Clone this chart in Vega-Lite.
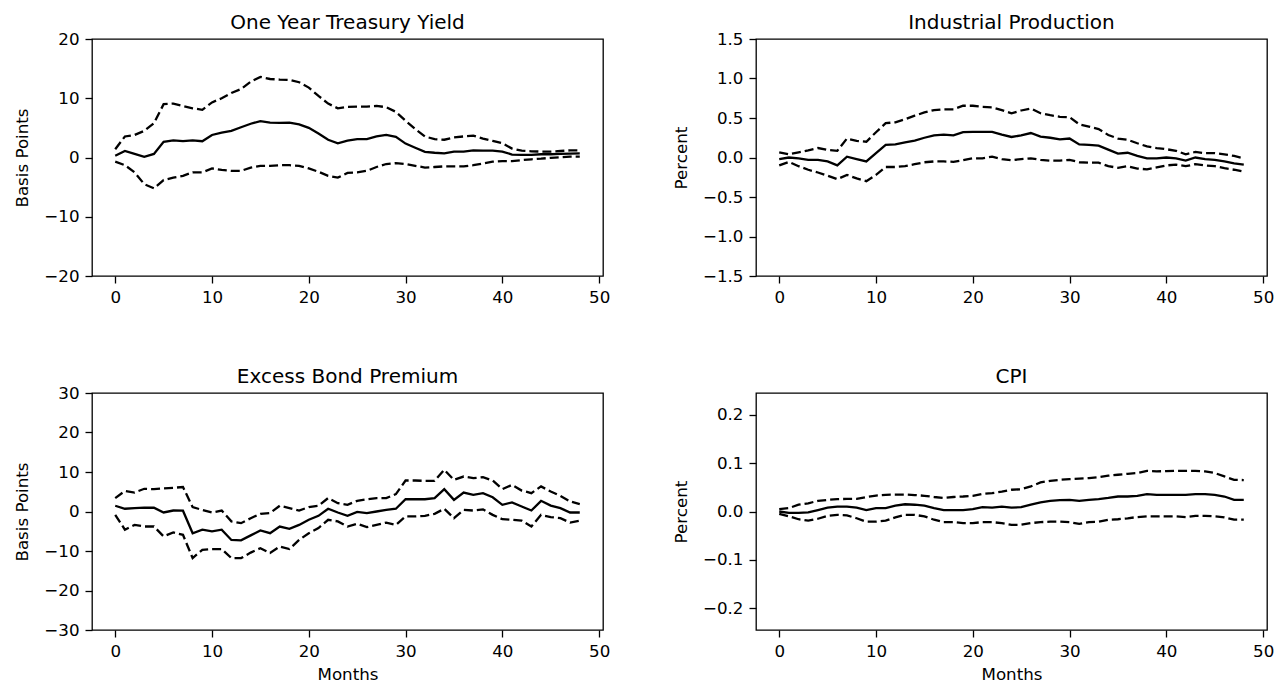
{
  "$schema": "https://vega.github.io/schema/vega-lite/v6.json",
  "padding": {"left": 14, "top": 12, "right": 0, "bottom": 0},
  "background": "white",
  "config": {
    "font": "DejaVu Sans",
    "view": {"stroke": "black", "strokeWidth": 1.3},
    "axis": {
      "domain": false, "grid": false, "ticks": true, "tickColor": "black", "tickSize": 7, "tickWidth": 1.3, "tickCount": 20,
      "labelFont": "DejaVu Sans", "labelFontSize": 16.7, "labelColor": "black", "labelPadding": 6, "labelOverlap": false,
      "titleFont": "DejaVu Sans", "titleFontSize": 16.7, "titleFontWeight": "normal", "titleColor": "black", "titlePadding": 7
    },
    "axisY": {"titlePadding": 12},
    "title": {"font": "DejaVu Sans", "fontSize": 20, "fontWeight": "normal", "color": "black", "offset": -2, "frame": "group"}
  },
  "datasets": {
    "ty": [
      {"m":0,"med":0.3,"lo":-0.7,"hi":1.4},{"m":1,"med":1.1,"lo":-1.3,"hi":3.55},{"m":2,"med":0.6,"lo":-2.5,"hi":3.8},{"m":3,"med":0.1,"lo":-4.5,"hi":4.5},{"m":4,"med":0.6,"lo":-5.2,"hi":5.8},{"m":5,"med":2.65,"lo":-3.8,"hi":9.0},{"m":6,"med":2.9,"lo":-3.4,"hi":9.1},{"m":7,"med":2.75,"lo":-3.1,"hi":8.7},{"m":8,"med":2.9,"lo":-2.5,"hi":8.3},{"m":9,"med":2.75,"lo":-2.5,"hi":8.05},
      {"m":10,"med":3.8,"lo":-1.85,"hi":9.3},{"m":11,"med":4.2,"lo":-2.1,"hi":10.0},{"m":12,"med":4.5,"lo":-2.25,"hi":10.9},{"m":13,"med":5.1,"lo":-2.25,"hi":11.55},{"m":14,"med":5.7,"lo":-1.7,"hi":12.8},{"m":15,"med":6.15,"lo":-1.4,"hi":13.6},{"m":16,"med":5.9,"lo":-1.4,"hi":13.25},{"m":17,"med":5.85,"lo":-1.3,"hi":13.15},{"m":18,"med":5.9,"lo":-1.3,"hi":13.1},{"m":19,"med":5.6,"lo":-1.4,"hi":12.7},
      {"m":20,"med":5.0,"lo":-1.85,"hi":11.8},{"m":21,"med":4.05,"lo":-2.4,"hi":10.4},{"m":22,"med":3.0,"lo":-3.1,"hi":9.1},{"m":23,"med":2.4,"lo":-3.4,"hi":8.3},{"m":24,"med":2.85,"lo":-2.6,"hi":8.55},{"m":25,"med":3.1,"lo":-2.5,"hi":8.6},{"m":26,"med":3.1,"lo":-2.25,"hi":8.6},{"m":27,"med":3.55,"lo":-1.6,"hi":8.7},{"m":28,"med":3.8,"lo":-1.1,"hi":8.5},{"m":29,"med":3.5,"lo":-0.95,"hi":7.7},
      {"m":30,"med":2.35,"lo":-1.1,"hi":6.2},{"m":31,"med":1.65,"lo":-1.4,"hi":4.8},{"m":32,"med":0.95,"lo":-1.7,"hi":3.55},{"m":33,"med":0.8,"lo":-1.6,"hi":3.1},{"m":34,"med":0.7,"lo":-1.5,"hi":3.0},{"m":35,"med":1.0,"lo":-1.5,"hi":3.4},{"m":36,"med":1.0,"lo":-1.5,"hi":3.55},{"m":37,"med":1.2,"lo":-1.3,"hi":3.7},{"m":38,"med":1.15,"lo":-1.0,"hi":3.2},{"m":39,"med":1.15,"lo":-0.7,"hi":2.8},
      {"m":40,"med":1.0,"lo":-0.6,"hi":2.4},{"m":41,"med":0.5,"lo":-0.6,"hi":1.5},{"m":42,"med":0.45,"lo":-0.45,"hi":1.15},{"m":43,"med":0.45,"lo":-0.3,"hi":1.05},{"m":44,"med":0.55,"lo":-0.2,"hi":1.0},{"m":45,"med":0.55,"lo":-0.05,"hi":1.0},{"m":46,"med":0.6,"lo":0.05,"hi":1.1},{"m":47,"med":0.65,"lo":0.15,"hi":1.2},{"m":48,"med":0.7,"lo":0.15,"hi":1.2}
    ],
    "ip": [
      {"m":0,"med":-0.02,"lo":-0.1,"hi":0.065},{"m":1,"med":0.0,"lo":-0.055,"hi":0.04},{"m":2,"med":-0.01,"lo":-0.11,"hi":0.065},{"m":3,"med":-0.03,"lo":-0.155,"hi":0.09},{"m":4,"med":-0.03,"lo":-0.19,"hi":0.12},{"m":5,"med":-0.05,"lo":-0.23,"hi":0.095},{"m":6,"med":-0.1,"lo":-0.275,"hi":0.085},{"m":7,"med":0.01,"lo":-0.22,"hi":0.24},{"m":8,"med":-0.02,"lo":-0.265,"hi":0.21},{"m":9,"med":-0.05,"lo":-0.3,"hi":0.2},
      {"m":10,"med":0.055,"lo":-0.22,"hi":0.32},{"m":11,"med":0.16,"lo":-0.12,"hi":0.435},{"m":12,"med":0.165,"lo":-0.12,"hi":0.445},{"m":13,"med":0.19,"lo":-0.11,"hi":0.485},{"m":14,"med":0.215,"lo":-0.085,"hi":0.53},{"m":15,"med":0.25,"lo":-0.06,"hi":0.57},{"m":16,"med":0.28,"lo":-0.05,"hi":0.6},{"m":17,"med":0.29,"lo":-0.05,"hi":0.61},{"m":18,"med":0.28,"lo":-0.055,"hi":0.61},{"m":19,"med":0.32,"lo":-0.035,"hi":0.655},
      {"m":20,"med":0.325,"lo":-0.01,"hi":0.655},{"m":21,"med":0.325,"lo":-0.01,"hi":0.64},{"m":22,"med":0.325,"lo":0.01,"hi":0.635},{"m":23,"med":0.29,"lo":-0.02,"hi":0.6},{"m":24,"med":0.26,"lo":-0.035,"hi":0.56},{"m":25,"med":0.28,"lo":-0.02,"hi":0.595},{"m":26,"med":0.31,"lo":-0.01,"hi":0.62},{"m":27,"med":0.265,"lo":-0.03,"hi":0.56},{"m":28,"med":0.25,"lo":-0.04,"hi":0.535},{"m":29,"med":0.23,"lo":-0.04,"hi":0.515},
      {"m":30,"med":0.24,"lo":-0.03,"hi":0.51},{"m":31,"med":0.165,"lo":-0.06,"hi":0.42},{"m":32,"med":0.16,"lo":-0.065,"hi":0.39},{"m":33,"med":0.15,"lo":-0.065,"hi":0.36},{"m":34,"med":0.1,"lo":-0.11,"hi":0.285},{"m":35,"med":0.05,"lo":-0.13,"hi":0.24},{"m":36,"med":0.06,"lo":-0.11,"hi":0.225},{"m":37,"med":0.02,"lo":-0.14,"hi":0.18},{"m":38,"med":-0.01,"lo":-0.15,"hi":0.14},{"m":39,"med":-0.01,"lo":-0.125,"hi":0.12},
      {"m":40,"med":0.0,"lo":-0.1,"hi":0.105},{"m":41,"med":-0.01,"lo":-0.09,"hi":0.085},{"m":42,"med":-0.04,"lo":-0.11,"hi":0.04},{"m":43,"med":0.0,"lo":-0.085,"hi":0.07},{"m":44,"med":-0.02,"lo":-0.1,"hi":0.055},{"m":45,"med":-0.03,"lo":-0.11,"hi":0.055},{"m":46,"med":-0.05,"lo":-0.135,"hi":0.04},{"m":47,"med":-0.075,"lo":-0.155,"hi":0.02},{"m":48,"med":-0.09,"lo":-0.18,"hi":-0.01}
    ],
    "ebp": [
      {"m":0,"med":1.45,"lo":-0.85,"hi":3.4},{"m":1,"med":0.7,"lo":-4.6,"hi":5.2},{"m":2,"med":0.85,"lo":-3.4,"hi":4.8},{"m":3,"med":1.0,"lo":-3.8,"hi":5.75},{"m":4,"med":0.95,"lo":-3.8,"hi":5.65},{"m":5,"med":-0.25,"lo":-6.3,"hi":5.85},{"m":6,"med":0.25,"lo":-5.3,"hi":6.0},{"m":7,"med":0.2,"lo":-5.9,"hi":6.2},{"m":8,"med":-5.5,"lo":-11.8,"hi":1.1},{"m":9,"med":-4.6,"lo":-9.7,"hi":0.4},
      {"m":10,"med":-5.05,"lo":-9.5,"hi":-0.25},{"m":11,"med":-4.6,"lo":-9.5,"hi":0.25},{"m":12,"med":-7.2,"lo":-11.8,"hi":-2.5},{"m":13,"med":-7.3,"lo":-11.8,"hi":-2.95},{"m":14,"med":-6.05,"lo":-10.4,"hi":-1.7},{"m":15,"med":-4.8,"lo":-9.3,"hi":-0.6},{"m":16,"med":-5.5,"lo":-10.5,"hi":-0.4},{"m":17,"med":-3.8,"lo":-8.85,"hi":1.45},{"m":18,"med":-4.4,"lo":-9.5,"hi":0.85},{"m":19,"med":-3.4,"lo":-7.2,"hi":0.25},
      {"m":20,"med":-2.1,"lo":-5.5,"hi":1.1},{"m":21,"med":-1.1,"lo":-4.2,"hi":1.45},{"m":22,"med":0.7,"lo":-2.1,"hi":3.4},{"m":23,"med":-0.25,"lo":-2.5,"hi":2.1},{"m":24,"med":-1.1,"lo":-3.8,"hi":1.7},{"m":25,"med":-0.1,"lo":-3.1,"hi":2.7},{"m":26,"med":-0.4,"lo":-3.95,"hi":3.1},{"m":27,"med":0.0,"lo":-3.4,"hi":3.4},{"m":28,"med":0.4,"lo":-2.8,"hi":3.4},{"m":29,"med":0.7,"lo":-3.4,"hi":4.4},
      {"m":30,"med":3.1,"lo":-1.25,"hi":7.85},{"m":31,"med":3.1,"lo":-1.25,"hi":7.85},{"m":32,"med":3.1,"lo":-1.1,"hi":7.75},{"m":33,"med":3.4,"lo":-0.6,"hi":7.75},{"m":34,"med":5.65,"lo":0.7,"hi":10.55},{"m":35,"med":2.95,"lo":-1.7,"hi":8.0},{"m":36,"med":4.8,"lo":0.4,"hi":8.85},{"m":37,"med":4.2,"lo":0.25,"hi":8.45},{"m":38,"med":4.65,"lo":0.55,"hi":8.7},{"m":39,"med":3.6,"lo":-0.85,"hi":7.85},
      {"m":40,"med":1.7,"lo":-1.95,"hi":5.65},{"m":41,"med":2.3,"lo":-2.1,"hi":6.75},{"m":42,"med":1.27,"lo":-2.3,"hi":5.3},{"m":43,"med":0.25,"lo":-3.8,"hi":4.65},{"m":44,"med":2.7,"lo":-0.85,"hi":6.35},{"m":45,"med":1.5,"lo":-1.4,"hi":5.05},{"m":46,"med":0.85,"lo":-1.7,"hi":3.95},{"m":47,"med":-0.25,"lo":-2.8,"hi":2.55},{"m":48,"med":-0.25,"lo":-2.3,"hi":1.85}
    ],
    "cpi": [
      {"m":0,"med":0.0,"lo":-0.005,"hi":0.005},{"m":1,"med":-0.003,"lo":-0.01,"hi":0.007},{"m":2,"med":-0.003,"lo":-0.016,"hi":0.014},{"m":3,"med":-0.002,"lo":-0.019,"hi":0.017},{"m":4,"med":0.003,"lo":-0.015,"hi":0.022},{"m":5,"med":0.008,"lo":-0.009,"hi":0.024},{"m":6,"med":0.01,"lo":-0.007,"hi":0.0255},{"m":7,"med":0.01,"lo":-0.008,"hi":0.026},{"m":8,"med":0.008,"lo":-0.014,"hi":0.026},{"m":9,"med":0.003,"lo":-0.021,"hi":0.03},
      {"m":10,"med":0.007,"lo":-0.021,"hi":0.033},{"m":11,"med":0.007,"lo":-0.019,"hi":0.0345},{"m":12,"med":0.012,"lo":-0.012,"hi":0.035},{"m":13,"med":0.015,"lo":-0.007,"hi":0.035},{"m":14,"med":0.014,"lo":-0.007,"hi":0.034},{"m":15,"med":0.012,"lo":-0.01,"hi":0.0325},{"m":16,"med":0.007,"lo":-0.017,"hi":0.03},{"m":17,"med":0.003,"lo":-0.022,"hi":0.028},{"m":18,"med":0.003,"lo":-0.022,"hi":0.03},{"m":19,"med":0.003,"lo":-0.024,"hi":0.031},
      {"m":20,"med":0.005,"lo":-0.024,"hi":0.0325},{"m":21,"med":0.009,"lo":-0.022,"hi":0.0365},{"m":22,"med":0.008,"lo":-0.022,"hi":0.038},{"m":23,"med":0.01,"lo":-0.024,"hi":0.041},{"m":24,"med":0.008,"lo":-0.0275,"hi":0.045},{"m":25,"med":0.009,"lo":-0.0275,"hi":0.046},{"m":26,"med":0.014,"lo":-0.024,"hi":0.052},{"m":27,"med":0.019,"lo":-0.022,"hi":0.06},{"m":28,"med":0.022,"lo":-0.021,"hi":0.0635},{"m":29,"med":0.0235,"lo":-0.021,"hi":0.0655},
      {"m":30,"med":0.024,"lo":-0.022,"hi":0.067},{"m":31,"med":0.022,"lo":-0.0255,"hi":0.068},{"m":32,"med":0.024,"lo":-0.022,"hi":0.069},{"m":33,"med":0.0255,"lo":-0.021,"hi":0.071},{"m":34,"med":0.028,"lo":-0.017,"hi":0.074},{"m":35,"med":0.031,"lo":-0.016,"hi":0.076},{"m":36,"med":0.031,"lo":-0.014,"hi":0.078},{"m":37,"med":0.0325,"lo":-0.0115,"hi":0.0795},{"m":38,"med":0.036,"lo":-0.01,"hi":0.084},{"m":39,"med":0.0345,"lo":-0.01,"hi":0.083},
      {"m":40,"med":0.0345,"lo":-0.01,"hi":0.0835},{"m":41,"med":0.0345,"lo":-0.01,"hi":0.084},{"m":42,"med":0.0345,"lo":-0.0115,"hi":0.084},{"m":43,"med":0.036,"lo":-0.009,"hi":0.084},{"m":44,"med":0.036,"lo":-0.009,"hi":0.083},{"m":45,"med":0.0345,"lo":-0.01,"hi":0.0795},{"m":46,"med":0.031,"lo":-0.012,"hi":0.0725},{"m":47,"med":0.024,"lo":-0.017,"hi":0.0655},{"m":48,"med":0.024,"lo":-0.017,"hi":0.065}
    ]
  },
  "vconcat": [
    {
      "spacing": 61,
      "hconcat": [
        {
          "data": {"name": "ty"}, "width": 511, "height": 237, "title": "One Year Treasury Yield",
          "encoding": {"x": {"field": "m", "type": "quantitative", "scale": {"domain": [-2.4, 50.4], "nice": false, "zero": false}, "axis": {"values": [0, 10, 20, 30, 40, 50], "title": null}}},
          "layer": [
            {"mark": {"type": "line", "color": "black", "strokeWidth": 2.3}, "encoding": {"y": {"field": "med", "type": "quantitative", "title": "Basis Points", "scale": {"domain": [-20, 20], "nice": false}, "axis": {"values": [-20, -10, 0, 10, 20]}}}},
            {"mark": {"type": "line", "color": "black", "strokeWidth": 2.3, "strokeDash": [9, 4]}, "encoding": {"y": {"field": "lo", "type": "quantitative", "title": "Basis Points"}}},
            {"mark": {"type": "line", "color": "black", "strokeWidth": 2.3, "strokeDash": [9, 4]}, "encoding": {"y": {"field": "hi", "type": "quantitative", "title": "Basis Points"}}}
          ]
        },
        {
          "data": {"name": "ip"}, "width": 511, "height": 237, "title": "Industrial Production",
          "encoding": {"x": {"field": "m", "type": "quantitative", "scale": {"domain": [-2.4, 50.4], "nice": false, "zero": false}, "axis": {"values": [0, 10, 20, 30, 40, 50], "title": null}}},
          "layer": [
            {"mark": {"type": "line", "color": "black", "strokeWidth": 2.3}, "encoding": {"y": {"field": "med", "type": "quantitative", "title": "Percent", "scale": {"domain": [-1.5, 1.5], "nice": false}, "axis": {"values": [-1.5, -1.0, -0.5, 0, 0.5, 1.0, 1.5], "format": ".1f"}}}},
            {"mark": {"type": "line", "color": "black", "strokeWidth": 2.3, "strokeDash": [9, 4]}, "encoding": {"y": {"field": "lo", "type": "quantitative", "title": "Percent"}}},
            {"mark": {"type": "line", "color": "black", "strokeWidth": 2.3, "strokeDash": [9, 4]}, "encoding": {"y": {"field": "hi", "type": "quantitative", "title": "Percent"}}}
          ]
        }
      ]
    },
    {
      "spacing": 61,
      "hconcat": [
        {
          "data": {"name": "ebp"}, "width": 511, "height": 237, "title": "Excess Bond Premium",
          "encoding": {"x": {"field": "m", "type": "quantitative", "title": "Months", "scale": {"domain": [-2.4, 50.4], "nice": false, "zero": false}, "axis": {"values": [0, 10, 20, 30, 40, 50]}}},
          "layer": [
            {"mark": {"type": "line", "color": "black", "strokeWidth": 2.3}, "encoding": {"y": {"field": "med", "type": "quantitative", "title": "Basis Points", "scale": {"domain": [-30, 30], "nice": false}, "axis": {"values": [-30, -20, -10, 0, 10, 20, 30]}}}},
            {"mark": {"type": "line", "color": "black", "strokeWidth": 2.3, "strokeDash": [9, 4]}, "encoding": {"y": {"field": "lo", "type": "quantitative", "title": "Basis Points"}}},
            {"mark": {"type": "line", "color": "black", "strokeWidth": 2.3, "strokeDash": [9, 4]}, "encoding": {"y": {"field": "hi", "type": "quantitative", "title": "Basis Points"}}}
          ]
        },
        {
          "data": {"name": "cpi"}, "width": 511, "height": 237, "title": {"text": "CPI", "offset": 6},
          "encoding": {"x": {"field": "m", "type": "quantitative", "title": "Months", "scale": {"domain": [-2.4, 50.4], "nice": false, "zero": false}, "axis": {"values": [0, 10, 20, 30, 40, 50]}}},
          "layer": [
            {"mark": {"type": "line", "color": "black", "strokeWidth": 2.3}, "encoding": {"y": {"field": "med", "type": "quantitative", "title": "Percent", "scale": {"domain": [-0.245, 0.245], "nice": false}, "axis": {"values": [-0.2, -0.1, 0, 0.1, 0.2], "format": ".1f"}}}},
            {"mark": {"type": "line", "color": "black", "strokeWidth": 2.3, "strokeDash": [9, 4]}, "encoding": {"y": {"field": "lo", "type": "quantitative", "title": "Percent"}}},
            {"mark": {"type": "line", "color": "black", "strokeWidth": 2.3, "strokeDash": [9, 4]}, "encoding": {"y": {"field": "hi", "type": "quantitative", "title": "Percent"}}}
          ]
        }
      ]
    }
  ],
  "spacing": 59
}
